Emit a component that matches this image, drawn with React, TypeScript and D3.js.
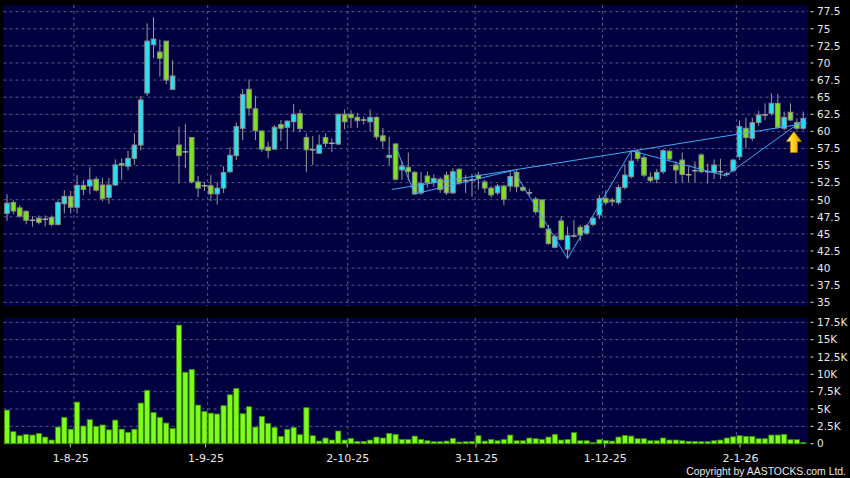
import React from 'react';
import * as d3 from 'd3';

const opens = [48.0,49.6,48.8,48.3,47.0,47.3,47.14,47.4,46.4,49.4,50.5,48.9,52.1,52.0,53.0,52.15,50.35,52.15,55.3,54.9,
56.05,58.0,65.6,72.7,71.6,73.2,66.15,58.0,57.0,59.1,52.6,52.05,52.05,50.85,51.7,54.1,56.45,60.45,66.15,63.3,
60.05,57.7,57.4,61.0,60.6,61.4,62.6,59.1,57.3,56.8,59.1,58.25,58.15,62.5,62.5,62.05,61.66,61.4,62.05,59.35,
56.2,58.15,54.35,54.74,54.0,51.0,53.47,52.55,53.0,53.6,51.0,54.45,52.8,52.9,53.6,52.6,51.7,51.0,52.0,52.0,
54.0,51.8,51.0,50.1,49.96,45.7,43.05,46.9,42.75,44.7,45.97,45.1,46.4,47.77,50.2,49.96,49.57,51.8,53.37,57.0,
56.15,53.3,53.0,54.1,57.1,55.08,55.8,53.66,54.25,56.55,54.1,54.0,54.1,53.76,54.25,56.3,60.45,59.0,61.3,62.4,
62.64,64.1,60.45,62.8,61.27,60.45];
const highs = [50.8,49.9,49.2,48.5,47.6,47.7,47.7,47.7,49.9,51.4,51.3,53.6,52.9,54.74,53.4,53.2,53.2,55.9,56.05,57.17,
59.7,65.2,75.8,76.7,73.4,73.2,70.4,60.7,61.1,59.2,53.5,52.6,53.6,52.6,54.9,57.7,61.3,66.2,67.6,65.2,
60.1,58.5,60.9,61.66,61.6,64.0,63.2,59.7,59.3,59.5,59.7,59.0,62.6,63.2,63.1,62.7,62.2,63.2,62.2,60.5,
59.2,58.3,55.6,56.9,54.2,54.1,54.1,53.7,53.3,54.1,54.6,54.6,53.6,53.8,54.1,52.9,52.0,52.3,52.2,54.35,
54.4,52.0,51.6,50.4,50.1,46.3,45.0,47.6,46.05,47.0,46.3,46.4,47.5,50.7,51.4,50.3,52.2,55.2,57.17,57.4,
56.5,54.0,54.5,57.4,57.3,55.6,56.9,54.8,55.6,56.8,55.3,55.9,56.0,54.1,56.0,61.6,62.0,62.0,63.0,64.1,
65.56,65.5,62.9,64.1,61.9,62.9];
const lows = [46.9,47.9,47.4,46.4,46.05,46.4,46.1,46.1,46.2,48.0,48.0,48.0,50.7,50.8,51.2,49.8,49.4,52.0,52.9,54.3,
55.1,57.2,65.2,70.7,68.0,66.9,66.15,52.4,54.6,52.4,50.35,51.3,49.8,49.3,51.0,53.9,55.8,58.7,62.25,58.7,
57.0,56.05,57.3,58.6,57.4,60.0,59.9,54.1,55.1,56.7,57.7,57.0,58.0,60.3,60.5,60.5,61.0,60.0,58.8,57.6,
55.1,52.8,52.9,52.8,50.7,50.7,51.8,51.9,51.0,50.7,50.85,52.2,51.0,50.45,51.5,51.0,50.3,50.7,49.2,51.2,
51.1,51.2,50.6,47.9,45.8,43.4,42.9,44.0,41.4,44.5,44.0,44.9,46.1,47.2,49.2,49.1,49.3,51.5,53.1,55.6,
53.3,52.5,52.4,53.8,55.7,52.4,52.6,52.6,52.6,53.9,52.4,53.0,53.0,53.4,54.0,55.8,57.5,58.6,60.8,61.7,
62.3,60.4,60.2,61.5,60.2,60.2];
const closes = [49.5,48.35,47.6,47.0,47.0,46.7,47.14,46.4,49.6,50.5,48.9,52.1,51.5,52.9,51.4,50.15,52.15,55.1,55.05,56.05,
58.0,64.6,73.2,73.5,70.7,67.5,68.1,56.45,57.0,52.6,51.7,52.05,50.85,51.7,54.0,56.5,60.7,65.4,63.4,60.1,
57.4,57.2,60.6,60.45,61.5,62.5,60.4,57.3,57.3,58.0,58.25,58.25,62.5,61.4,62.0,61.55,61.66,62.05,59.2,58.6,
56.5,53.0,54.9,54.1,50.85,52.4,52.5,53.1,51.5,51.0,54.1,52.5,52.8,52.9,53.1,51.7,50.7,52.0,50.06,53.4,
51.9,51.4,51.0,48.25,45.97,43.6,44.6,44.2,44.74,44.7,44.84,46.2,47.3,50.2,49.57,49.7,51.8,53.6,55.66,56.05,
53.6,52.8,54.0,57.17,55.96,54.35,53.7,53.66,54.25,54.1,54.1,55.08,54.1,53.76,55.8,60.7,59.1,61.27,62.4,62.4,
64.1,60.6,62.05,61.66,60.45,61.9];
const volumes = [4.85,1.73,1.15,1.35,1.25,1.49,0.96,0.53,2.4,3.8,2.1,6.0,2.55,3.46,2.5,2.7,2.0,3.4,2.1,1.63,
2.1,5.86,7.7,4.5,3.8,2.98,2.2,17.1,10.3,10.7,5.57,4.66,4.4,4.28,5.48,7.06,7.98,4.32,5.33,2.4,
3.94,2.93,2.35,1.06,2.07,2.35,1.3,5.19,1.15,0.38,0.82,0.53,1.83,0.53,0.77,0.34,0.34,0.53,0.96,0.82,
1.49,1.35,0.62,0.62,1.1,0.62,0.43,0.29,0.29,0.38,0.77,0.24,0.29,0.34,1.15,0.38,0.62,0.43,0.62,1.25,
0.43,0.43,0.82,0.72,0.62,0.96,1.35,0.53,0.62,1.59,0.43,0.43,0.19,0.58,0.48,0.38,0.96,1.2,1.1,0.72,
0.72,0.43,0.43,0.82,0.53,0.53,0.43,0.34,0.34,0.29,0.29,0.43,0.53,0.82,1.0,1.15,1.06,1.06,0.72,0.72,
1.25,1.25,1.35,0.58,0.58,0.19];

const monthStartIdx = [11, 32, 54, 74, 94, 115];
const monthLabels = ['1-8-25', '1-9-25', '2-10-25', '3-11-25', '1-12-25', '2-1-26'];
const priceTicks = [35, 37.5, 40, 42.5, 45, 47.5, 50, 52.5, 55, 57.5, 60, 62.5, 65, 67.5, 70, 72.5, 75, 77.5];
const volTicks = [0, 2.5, 5, 7.5, 10, 12.5, 15, 17.5];
const volTickLabels = ['0', '2.5K', '5K', '7.5K', '10K', '12.5K', '15K', '17.5K'];
const trendIdx = [60.4, 125.6];
const trendPrice = [51.5, 61.2];
const zigIdx = [61, 64, 79.5, 88, 98, 112.8, 125.5];
const zigPrice = [57.8, 50.85, 54.3, 41.4, 57.17, 53.5, 62.0];
const arrowIdx = 124;

const W = 850, H = 478;
const PL = 3.5, PR = 808;
const N = closes.length;

export default function App() {
  const x = d3.scaleLinear().domain([0, 125]).range([7, 7 + 6.37 * 125]);
  const xt = d3.scaleLinear().domain([0, 125]).range([-0.5, -0.5 + 6.439 * 125]);
  const y = d3.scaleLinear().domain([35, 77.5]).range([302.3, 11.7]);
  const yv = d3.scaleLinear().domain([0, 17.5]).range([443.7, 322.3]);
  const gridColor = '#5a5a88';
  const lineGen = d3.line<[number, number]>().x(d => x(d[0])).y(d => y(d[1]));
  const bw = 4.6;
  const ai = arrowIdx;
  const ax = x(ai) - 3;
  const at = y(lows[ai]) + 1.5;
  return (
    <svg width={W} height={H} style={{ position: 'absolute', left: 0, top: 0, background: '#000' }}
      fontFamily="'DejaVu Sans', Verdana, sans-serif">
      <defs>
        <linearGradient id="arrowG" x1="0" x2="1" y1="0" y2="0">
          <stop offset="0" stopColor="#fff3a0" />
          <stop offset="0.45" stopColor="#ffd21a" />
          <stop offset="1" stopColor="#d99a00" />
        </linearGradient>
      </defs>
      <rect x={0} y={0} width={W} height={H} fill="#000" />
      <rect x={PL} y={5} width={PR - PL} height={301} fill="#000040" />
      <rect x={PL} y={318} width={PR - PL} height={126} fill="#000040" />
      {/* price grid */}
      {priceTicks.map(t => (
        <line key={'pg' + t} x1={PL} x2={PR} y1={y(t)} y2={y(t)} stroke={gridColor} strokeDasharray="3,3" strokeWidth={1} />
      ))}
      {monthStartIdx.map(i => (
        <line key={'pv' + i} x1={x(i - 0.5)} x2={x(i - 0.5)} y1={5} y2={306} stroke={gridColor} strokeDasharray="3,3" />
      ))}
      {/* volume grid */}
      {volTicks.map(t => (
        <line key={'vg' + t} x1={PL} x2={PR} y1={yv(t)} y2={yv(t)} stroke={gridColor} strokeDasharray="3,3" />
      ))}
      {monthStartIdx.map(i => (
        <line key={'vv' + i} x1={x(i - 0.5)} x2={x(i - 0.5)} y1={318} y2={444} stroke={gridColor} strokeDasharray="3,3" />
      ))}
      {/* candles */}
      {d3.range(N).map(i => {
        const o = opens[i], c = closes[i];
        const cx = x(i);
        const up = c > o, down = c < o;
        const fill = up ? '#22e4f4' : down ? '#7ee01e' : '#9a9a9a';
        const top = y(Math.max(o, c)), bot = y(Math.min(o, c));
        return (
          <g key={'c' + i}>
            <line x1={cx} x2={cx} y1={y(highs[i])} y2={y(lows[i])} stroke="#9a9a9a" strokeWidth={1} />
            {up || down ? (
              <rect x={cx - bw / 2} y={top} width={bw} height={Math.max(1, bot - top)} fill={fill} stroke="#8c8c8c" strokeWidth={1} />
            ) : (
              <line x1={cx - bw / 2 - 0.5} x2={cx + bw / 2 + 0.5} y1={top} y2={top} stroke="#a8a8a8" strokeWidth={1.5} />
            )}
          </g>
        );
      })}
      {/* pattern lines */}
      <path d={lineGen(trendIdx.map((v, k) => [v, trendPrice[k]]) as [number, number][]) || ''} fill="none" stroke="#45aaf5" strokeWidth={1} />
      <path d={lineGen(zigIdx.map((v, k) => [v, zigPrice[k]]) as [number, number][]) || ''} fill="none" stroke="#45aaf5" strokeWidth={1} />
      {/* arrow */}
      <path d={`M${ax},${at} L${ax + 7.5},${at + 10} L${ax + 3.5},${at + 10} L${ax + 3.5},${at + 21} L${ax - 3.5},${at + 21} L${ax - 3.5},${at + 10} L${ax - 7.5},${at + 10} Z`}
        fill="url(#arrowG)" stroke="#b07800" strokeWidth={0.8} />
      {/* volume bars */}
      {volumes.map((v, i) => (
        <rect key={'v' + i} x={x(i) - 2.6} y={yv(v)} width={5.2} height={yv(0) - yv(v)} fill="#7dfc1e" stroke="#3a8a00" strokeWidth={0.8} />
      ))}
      {/* y axis labels price */}
      {priceTicks.map(t => (
        <g key={'pl' + t}>
          <line x1={810.5} x2={813.5} y1={y(t)} y2={y(t)} stroke="#ddd" />
          <text x={817} y={y(t)} dy="0.36em" fill="#e8e8e8" fontSize={10.5}>{String(t)}</text>
        </g>
      ))}
      {volTicks.map((t, k) => (
        <g key={'vl' + t}>
          <line x1={810.5} x2={813.5} y1={yv(t)} y2={yv(t)} stroke="#ddd" />
          <text x={817} y={yv(t)} dy="0.36em" fill="#e8e8e8" fontSize={10.5}>{volTickLabels[k]}</text>
        </g>
      ))}
      {/* x axis */}
      {monthStartIdx.map((i, k) => (
        <g key={'xl' + i}>
          <line x1={xt(i)} x2={xt(i)} y1={444} y2={447.5} stroke="#bbb" />
          <text x={xt(i) + 0.5} y={461.7} textAnchor="middle" fill="#e8e8e8" fontSize={11}>{monthLabels[k]}</text>
        </g>
      ))}
      <text x={846} y={475} textAnchor="end" fill="#e8e8e8" fontSize={10.4} fontFamily="'Liberation Sans', Arial, sans-serif">Copyright by AASTOCKS.com Ltd.</text>
    </svg>
  );
}
